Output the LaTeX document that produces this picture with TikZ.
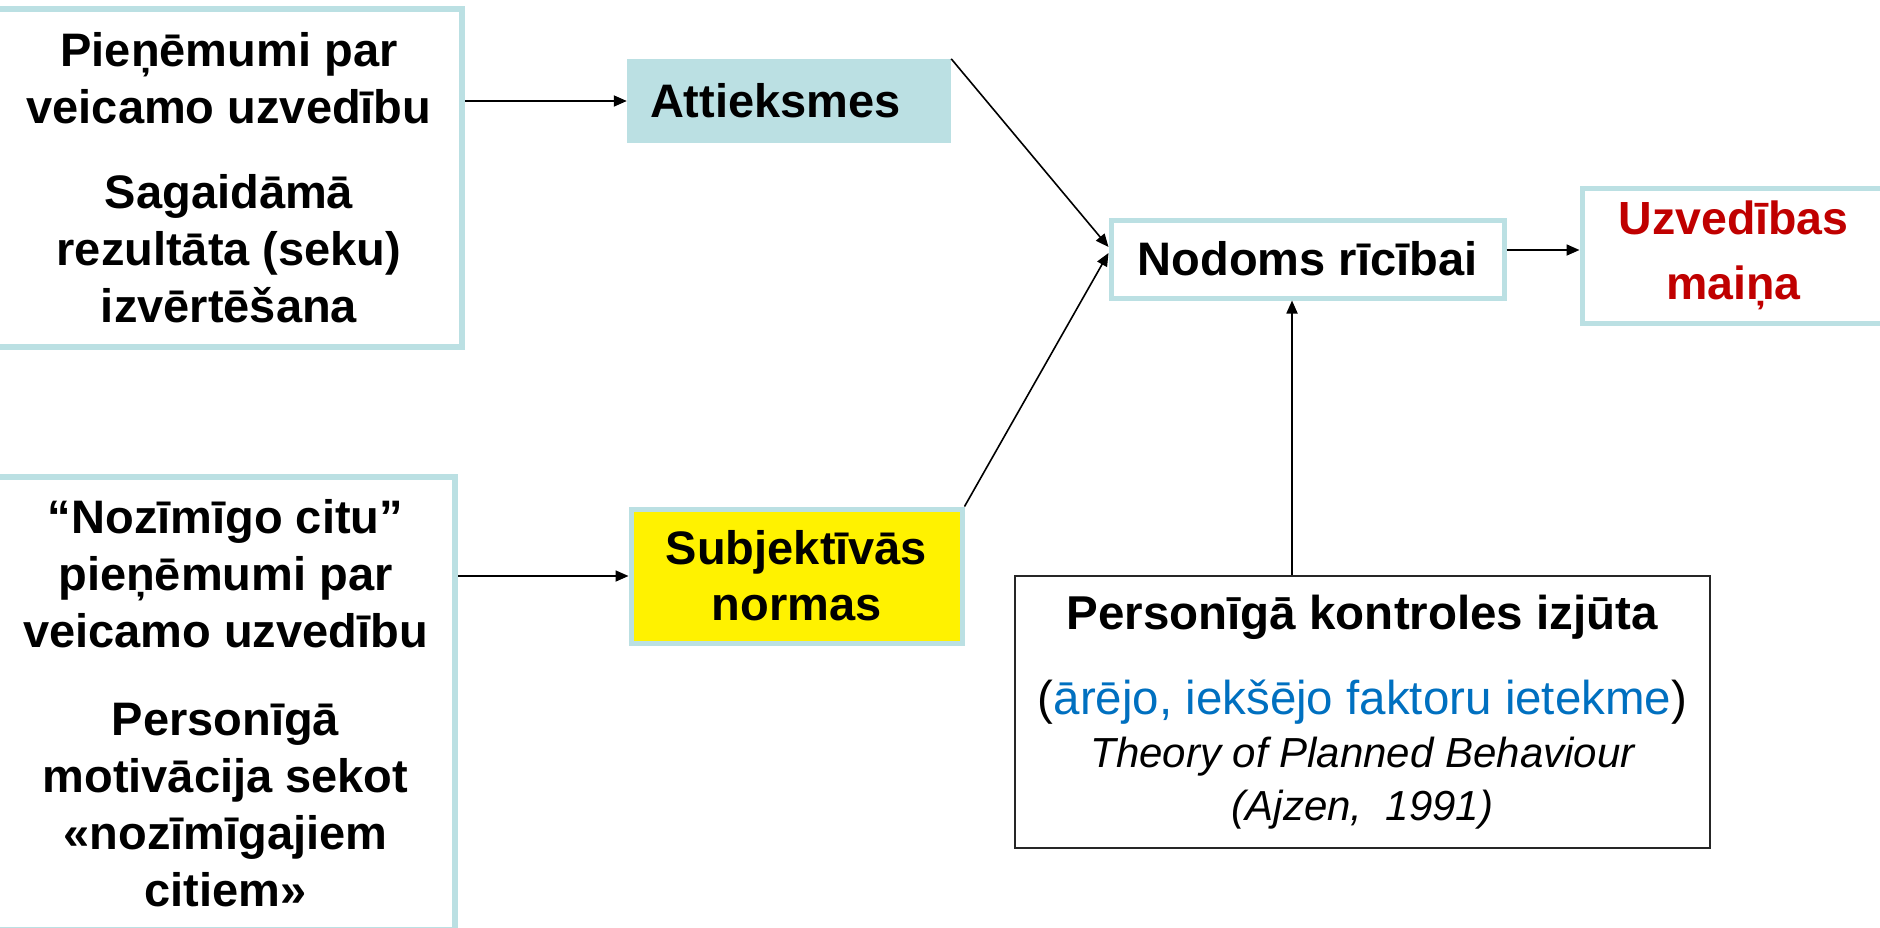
\documentclass[tikz,border=0pt]{standalone}
\usepackage{fontspec}
\setmainfont{Liberation Sans}
\usetikzlibrary{arrows.meta,calc}
\definecolor{lblue}{RGB}{187,224,227}
\definecolor{myred}{RGB}{192,0,0}
\definecolor{myblue}{RGB}{0,112,192}
\begin{document}
\begin{tikzpicture}[x=1pt,y=-1pt,
  bx/.style={draw=lblue, line width=5pt, rectangle, inner sep=0pt, align=center},
  arr/.style={line width=1.8pt, -{Triangle[length=13pt,width=11pt]}},
  big/.style={font=\fontsize{47}{57}\selectfont\bfseries}]
\useasboundingbox (0,0) rectangle (1880,927);
\fill[white] (0,0) rectangle (1880,927);

\node[bx, line width=6pt, minimum width=466pt, minimum height=338pt, big] (A) at (229,178)
  {Pieņēmumi par\\veicamo uzvedību\\[28pt]Sagaidāmā\\rezultāta (seku)\\izvērtēšana};

\node[bx, line width=6pt, minimum width=459pt, minimum height=453pt, big] (B) at (225.5,703.5)
  {“Nozīmīgo citu”\\pieņēmumi par\\veicamo uzvedību\\[31pt]Personīgā\\motivācija sekot\\«nozīmīgajiem\\citiem»};

\node[fill=lblue, draw=none, inner xsep=23pt, inner ysep=0pt, text width=278pt, align=left,
  minimum height=84pt, big] (Att) at (789,101) {Attieksmes};

\node[bx, fill=yellow, minimum width=331pt, minimum height=134pt,
  font=\fontsize{47}{56}\selectfont\bfseries] (Subj) at (796.5,576) {Subjektīvās\\normas};

\node[bx, fill=white, minimum width=393pt, minimum height=78pt, big] (Nod) at (1307.5,259)
  {Nodoms rīcībai};

\node[bx, fill=white, minimum width=303pt, minimum height=135pt,
  font=\fontsize{46.5}{65}\selectfont\bfseries, text=myred] (Uzv) at (1733.5,255.5)
  {Uzvedības\\maiņa};

\node[draw=black!85, line width=2pt, rectangle, inner sep=0pt, align=center,
  minimum width=695pt, minimum height=272pt, font=\fontsize{47.5}{53}\selectfont] (Per) at (1362.5,712)
  {\textbf{Personīgā kontroles izjūta}\\[32pt](\textcolor{myblue}{ārējo, iekšējo faktoru ietekme})\\{\fontsize{42}{53}\selectfont\itshape Theory of Planned Behaviour}\\{\fontsize{42}{53}\selectfont\itshape (Ajzen,~~1991)}};

\draw[arr] (A.east |- Att.west) -- (Att.west);
\draw[arr] (B.east |- Subj.west) -- (Subj.west);
\draw[arr, line width=1.6pt] (Att.north east) -- ($(Nod.west)+(0,-12)$);
\draw[arr, line width=1.6pt] (Subj.north east) -- ($(Nod.west)+(0,-6)$);
\coordinate (pc) at ($(Nod.south)+(-15.5,0)$);
\draw[arr] (Per.north -| pc) -- (pc);
\coordinate (ne) at ($(Nod.east)+(0,-9)$);
\draw[arr] (ne) -- (Uzv.west |- ne);
\end{tikzpicture}
\end{document}
